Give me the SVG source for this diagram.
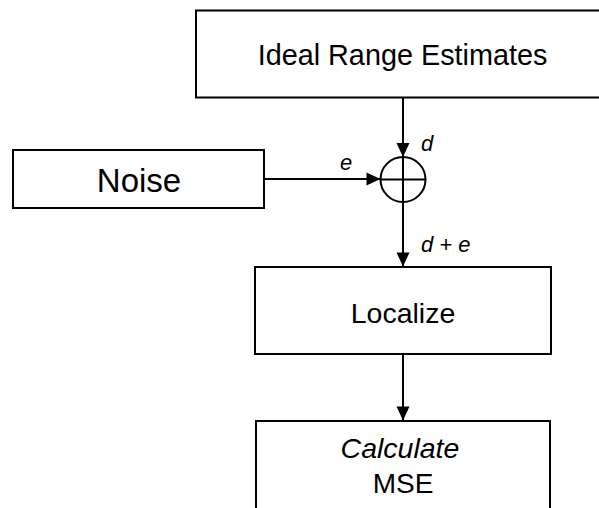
<svg xmlns="http://www.w3.org/2000/svg" width="599" height="508" viewBox="0 0 599 508">
<style>
.box{fill:#fff;stroke:#000;stroke-width:2}
.lbl{font-family:"Liberation Sans",Arial,sans-serif;fill:#000;text-anchor:middle}
.conn{stroke:#000;stroke-width:2;fill:none}
.it{font-family:"Liberation Sans",Arial,sans-serif;font-style:italic;fill:#000}
</style>
<defs>
<marker id="ah" markerUnits="userSpaceOnUse" markerWidth="16" markerHeight="14" refX="15" refY="7" orient="auto">
<path d="M1,0.5 L15,7 L1,13.5 Z" fill="#000"/>
</marker>
</defs>
<rect width="599" height="508" fill="#fff"/>
<g id="ideal">
<rect class="box" x="196" y="10.5" width="420" height="87"/>
<text class="lbl" x="402.5" y="65" font-size="28.8">Ideal Range Estimates</text>
</g>
<g id="noise">
<rect class="box" x="13" y="150" width="251" height="58"/>
<text class="lbl" x="139" y="191.5" font-size="33">Noise</text>
</g>
<g id="sum">
<circle cx="403" cy="179.5" r="22.5" fill="#fff" stroke="#000" stroke-width="2"/>
<line x1="380.5" y1="179.5" x2="425.5" y2="179.5" stroke="#000" stroke-width="2"/>
<line x1="403" y1="157" x2="403" y2="202" stroke="#000" stroke-width="2"/>
</g>
<g id="localize">
<rect class="box" x="255" y="267" width="296" height="87"/>
<text class="lbl" x="403" y="322.5" font-size="28.5">Localize</text>
</g>
<g id="calculate">
<rect class="box" x="256" y="421" width="294" height="110"/>
<text class="lbl" x="400" y="458" font-size="28.5" font-style="italic">Calculate</text>
<text class="lbl" x="403" y="493" font-size="28">MSE</text>
</g>
<g id="connectors">
<line class="conn" x1="403" y1="97.5" x2="403" y2="157" marker-end="url(#ah)"/>
<line class="conn" x1="264" y1="179" x2="380.5" y2="179" marker-end="url(#ah)"/>
<line class="conn" x1="403" y1="202" x2="403" y2="266.5" marker-end="url(#ah)"/>
<line class="conn" x1="403" y1="354" x2="403" y2="420.5" marker-end="url(#ah)"/>
<text class="it" x="421" y="151" font-size="22">d</text>
<text class="it" x="340" y="170" font-size="22">e</text>
<text class="it" x="421" y="251.5" font-size="22" xml:space="preserve">d + e</text>
</g>
</svg>
